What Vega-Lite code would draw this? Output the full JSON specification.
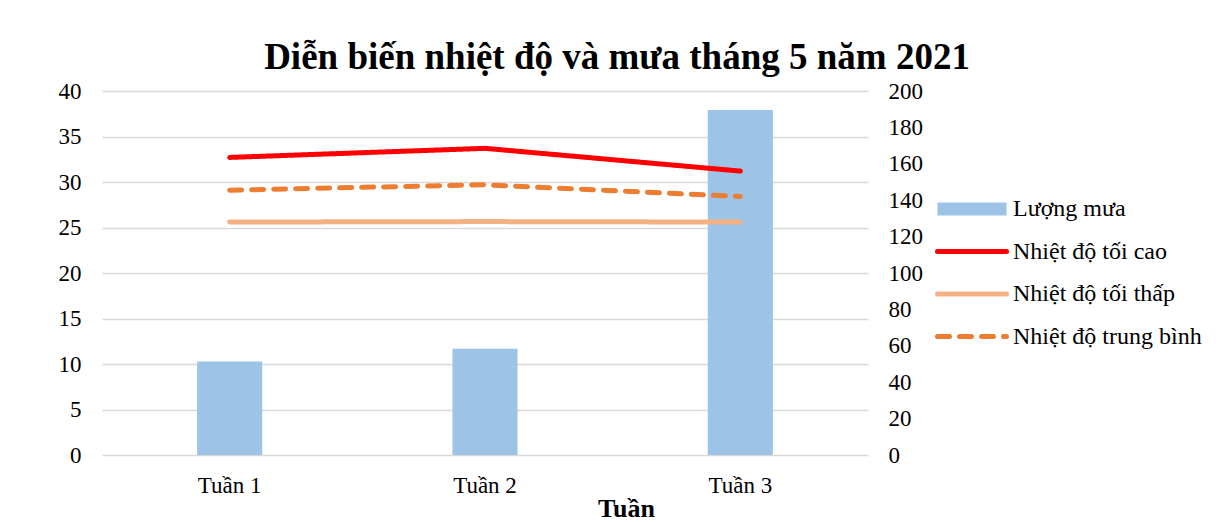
{
  "$schema": "https://vega.github.io/schema/vega-lite/v6.json",
  "width": 766,
  "height": 364,
  "autosize": {"type": "none"},
  "padding": {"left": 102, "top": 91, "right": 350, "bottom": 67},
  "background": "white",
  "title": {
    "text": "Diễn biến nhiệt độ và mưa tháng 5 năm 2021",
    "font": "Liberation Serif",
    "fontSize": 37,
    "fontWeight": "bold",
    "color": "#000000",
    "anchor": "middle",
    "dx": 132,
    "offset": 3
  },
  "data": {
    "values": [
      {"week": "Tuần 1", "series": "Lượng mưa", "value": 51.4},
      {"week": "Tuần 2", "series": "Lượng mưa", "value": 58.4},
      {"week": "Tuần 3", "series": "Lượng mưa", "value": 189.5},
      {"week": "Tuần 1", "series": "Nhiệt độ tối cao", "value": 32.7},
      {"week": "Tuần 2", "series": "Nhiệt độ tối cao", "value": 33.7},
      {"week": "Tuần 3", "series": "Nhiệt độ tối cao", "value": 31.2},
      {"week": "Tuần 1", "series": "Nhiệt độ tối thấp", "value": 25.6},
      {"week": "Tuần 2", "series": "Nhiệt độ tối thấp", "value": 25.65},
      {"week": "Tuần 3", "series": "Nhiệt độ tối thấp", "value": 25.6},
      {"week": "Tuần 1", "series": "Nhiệt độ trung bình", "value": 29.1},
      {"week": "Tuần 2", "series": "Nhiệt độ trung bình", "value": 29.7},
      {"week": "Tuần 3", "series": "Nhiệt độ trung bình", "value": 28.4}
    ]
  },
  "encoding": {
    "x": {
      "field": "week",
      "type": "nominal",
      "scale": {"paddingInner": 0, "paddingOuter": 0},
      "axis": {
        "title": "Tuần",
        "titleX": 524,
        "labelAngle": 0,
        "labelFont": "Liberation Serif",
        "labelFontSize": 23,
        "labelColor": "#000000",
        "labelPadding": 19,
        "titleFont": "Liberation Serif",
        "titleFontSize": 26,
        "titleFontWeight": "bold",
        "titleColor": "#000000",
        "titlePadding": -2,
        "domain": false,
        "ticks": false,
        "grid": false
      }
    },
    "color": {
      "field": "series",
      "type": "nominal",
      "scale": {
        "domain": ["Lượng mưa", "Nhiệt độ tối cao", "Nhiệt độ tối thấp", "Nhiệt độ trung bình"],
        "range": ["#9DC3E6", "#FF0000", "#F4B183", "#ED7D31"]
      },
      "legend": {
        "title": null,
        "orient": "none",
        "legendX": 836,
        "legendY": 106,
        "labelFont": "Liberation Serif",
        "labelFontSize": 24,
        "labelColor": "#000000",
        "labelOffset": 29,
        "labelLimit": 400,
        "symbolOffset": 22,
        "rowPadding": 18.5,
        "symbolSize": 4761,
        "symbolType": "stroke",
        "encode": {
          "symbols": {
            "update": {
              "shape": {"signal": "datum.value === 'Lượng mưa' ? 'M-1,-0.19L1,-0.19L1,0.19L-1,0.19Z' : 'stroke'"},
              "fill": {"signal": "datum.value === 'Lượng mưa' ? '#9DC3E6' : 'transparent'"},
              "stroke": {"signal": "datum.value === 'Lượng mưa' ? 'transparent' : scale('color', datum.value)"},
              "strokeWidth": {"signal": "datum.value === 'Lượng mưa' ? 0 : 5"},
              "strokeDash": {"signal": "datum.value === 'Nhiệt độ trung bình' ? [12, 10] : [1, 0]"},
              "strokeCap": {"value": "round"},
              "opacity": {"value": 1}
            }
          }
        }
      }
    }
  },
  "layer": [
    {
      "transform": [{"filter": "datum.series === 'Lượng mưa'"}],
      "mark": {"type": "bar", "width": {"band": 0.255}},
      "encoding": {
        "y": {
          "field": "value",
          "type": "quantitative",
          "scale": {"domain": [0, 200], "nice": false},
          "axis": {
            "orient": "right",
            "title": null,
            "values": [0, 20, 40, 60, 80, 100, 120, 140, 160, 180, 200],
            "labelFont": "Liberation Serif",
            "labelFontSize": 23,
            "labelColor": "#000000",
            "labelPadding": 20,
            "domain": false,
            "ticks": false,
            "grid": false
          }
        }
      }
    },
    {
      "transform": [{"filter": "datum.series !== 'Lượng mưa'"}],
      "mark": {"type": "line", "strokeWidth": 5, "strokeCap": "round"},
      "encoding": {
        "y": {
          "field": "value",
          "type": "quantitative",
          "scale": {"domain": [0, 40], "nice": false},
          "axis": {
            "orient": "left",
            "title": null,
            "values": [0, 5, 10, 15, 20, 25, 30, 35, 40],
            "labelFont": "Liberation Serif",
            "labelFontSize": 23,
            "labelColor": "#000000",
            "labelPadding": 21,
            "domain": false,
            "ticks": false,
            "grid": true,
            "gridColor": "#D9D9D9",
            "gridWidth": 1.5
          }
        },
        "strokeDash": {
          "field": "series",
          "type": "nominal",
          "scale": {
            "domain": ["Nhiệt độ tối cao", "Nhiệt độ tối thấp", "Nhiệt độ trung bình"],
            "range": [[1, 0], [1, 0], [12, 10]]
          },
          "legend": null
        }
      }
    }
  ],
  "resolve": {"scale": {"y": "independent"}},
  "config": {
    "view": {"stroke": null},
    "legend": {"symbolSize": 4761}
  }
}
